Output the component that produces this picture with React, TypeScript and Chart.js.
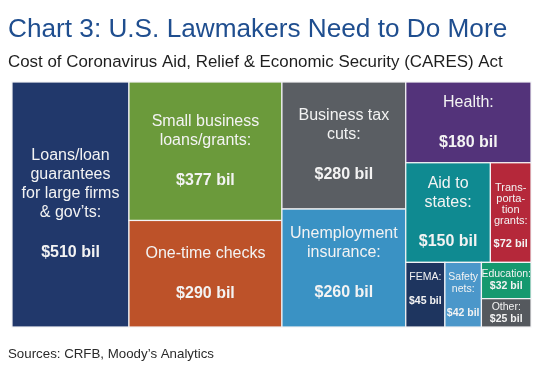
import React, { useEffect, useRef } from "react";
import { Chart, registerables } from "chart.js";

Chart.register(...registerables);

// ---- Data ----
const categories = [
  "Loans/loan guarantees for large firms & gov’ts",
  "Small business loans/grants",
  "One-time checks",
  "Business tax cuts",
  "Unemployment insurance",
  "Health",
  "Aid to states",
  "Transportation grants",
  "FEMA",
  "Safety nets",
  "Education",
  "Other",
];
const valuesBil = [510, 377, 290, 280, 260, 180, 150, 72, 45, 42, 32, 25];
const labelLines: string[][] = [
  ["Loans/loan", "guarantees", "for large firms", "& gov’ts:"],
  ["Small business", "loans/grants:"],
  ["One-time checks"],
  ["Business tax", "cuts:"],
  ["Unemployment", "insurance:"],
  ["Health:"],
  ["Aid to", "states:"],
  ["Trans-", "porta-", "tion", "grants:"],
  ["FEMA:"],
  ["Safety", "nets:"],
  ["Education:"],
  ["Other:"],
];
const colors = [
  "#21386b",
  "#6b9a3b",
  "#bd5229",
  "#5a5e63",
  "#3a92c4",
  "#53337a",
  "#0f8a91",
  "#b5283a",
  "#1e355f",
  "#4b97ca",
  "#15996f",
  "#55595e",
];
// nested grouping of category indices (alternating horizontal / vertical split)
const layoutTree: any[] = [0, [1, 2], [3, 4], [5, [6, 7], [8, 9, [10, 11]]]];
const textTier = ["big", "big", "big", "big", "big", "big", "big", "tiny", "small", "small", "smallTight", "smallTight"];
const trailingBlank = [false, false, false, false, false, false, false, false, true, false, false, false];
const textShift = [0, 0, 0, 0, -5, 0, 0, 3, 0, 0, 0, 0];

const titleText = "Chart 3: U.S. Lawmakers Need to Do More";
const subtitleText = "Cost of Coronavirus Aid, Relief & Economic Security (CARES) Act";
const sourceText = "Sources: CRFB, Moody’s Analytics";

const FONT = "'Liberation Sans', Arial, Helvetica, sans-serif";

function nodeSum(n: any): number {
  return Array.isArray(n) ? n.reduce((s: number, c: any) => s + nodeSum(c), 0) : valuesBil[n];
}

type Rect = { i: number; x0: number; x1: number; y0: number; y1: number };

function layout(n: any, x0: number, x1: number, y0: number, y1: number, depth: number, out: Rect[]) {
  if (!Array.isArray(n)) {
    out.push({ i: n, x0, x1, y0, y1 });
    return;
  }
  const total = nodeSum(n);
  let acc = 0;
  n.forEach((c: any) => {
    const v = nodeSum(c);
    const f0 = acc / total;
    const f1 = (acc + v) / total;
    acc += v;
    if (depth % 2 === 0) {
      layout(c, x0 + (x1 - x0) * f0, x0 + (x1 - x0) * f1, y0, y1, depth + 1, out);
    } else {
      layout(c, x0, x1, y0 + (y1 - y0) * f0, y0 + (y1 - y0) * f1, depth + 1, out);
    }
  });
}

const grandTotal = nodeSum(layoutTree);

const tiers: Record<string, { label: number; value: number; lh: number; gap: number }> = {
  big: { label: 16, value: 16, lh: 19, gap: 2.1 },
  tiny: { label: 11, value: 11, lh: 11, gap: 2.1 },
  small: { label: 10.5, value: 10.5, lh: 12, gap: 2 },
  smallTight: { label: 10.5, value: 10.5, lh: 12, gap: 1 },
};

const treemapPlugin = {
  id: "treemapCells",
  afterDatasetsDraw(chart: any) {
    const xs = chart.scales.x;
    const ys = chart.scales.y;
    const ctx = chart.ctx;
    const rects: Rect[] = [];
    layout(layoutTree, 0, grandTotal, 0, 1, 0, rects);
    ctx.save();
    rects.forEach((r) => {
      const px0 = xs.getPixelForValue(r.x0);
      const px1 = xs.getPixelForValue(r.x1);
      const py0 = ys.getPixelForValue(r.y0);
      const py1 = ys.getPixelForValue(r.y1);
      ctx.fillStyle = colors[r.i];
      ctx.fillRect(px0, py0, px1 - px0, py1 - py0);
      ctx.strokeStyle = "#f4f4f6";
      ctx.lineWidth = 1.2;
      ctx.strokeRect(px0, py0, px1 - px0, py1 - py0);

      const t = tiers[textTier[r.i]];
      const lines = labelLines[r.i];
      const blockH = lines.length * t.lh + t.gap * t.lh + (trailingBlank[r.i] ? t.lh : 0);
      const cx = (px0 + px1) / 2;
      const cy = (py0 + py1) / 2 + textShift[r.i];
      let y = cy - blockH / 2 + t.lh / 2;
      ctx.fillStyle = "#f3f3f3";
      ctx.textAlign = "center";
      ctx.textBaseline = "middle";
      ctx.font = `${t.label}px ${FONT}`;
      lines.forEach((ln) => {
        ctx.fillText(ln, cx, y);
        y += t.lh;
      });
      y += (t.gap - 1) * t.lh;
      ctx.font = `bold ${t.value}px ${FONT}`;
      ctx.fillText(`$${valuesBil[r.i]} bil`, cx, y);
    });
    ctx.restore();
  },
  afterDraw(chart: any) {
    const ctx = chart.ctx;
    ctx.save();
    ctx.textAlign = "left";
    ctx.textBaseline = "alphabetic";
    ctx.fillStyle = "#1f4e8f";
    ctx.font = `26.2px ${FONT}`;
    ctx.fillText(titleText, 8, 37);
    ctx.fillStyle = "#1e1e1e";
    ctx.font = `16.9px ${FONT}`;
    ctx.fillText(subtitleText, 8, 67);
    ctx.fillStyle = "#2a2a2a";
    ctx.font = `13.3px ${FONT}`;
    ctx.fillText(sourceText, 8, 357.5);
    ctx.restore();
  },
};

export default function App() {
  const ref = useRef<HTMLCanvasElement | null>(null);
  useEffect(() => {
    if (!ref.current) return;
    const chart = new Chart(ref.current, {
      type: "scatter",
      data: {
        labels: categories,
        datasets: [{ label: "CARES Act", data: [], pointRadius: 0 }],
      },
      options: {
        animation: false,
        responsive: false,
        layout: { padding: { left: 12, right: 17, top: 82, bottom: 40 } },
        plugins: {
          legend: { display: false },
          tooltip: { enabled: false },
          title: { display: false },
        },
        scales: {
          x: { type: "linear", min: 0, max: grandTotal, display: false },
          y: { type: "linear", min: 0, max: 1, reverse: true, display: false },
        },
      },
      plugins: [treemapPlugin],
    });
    return () => chart.destroy();
  }, []);
  return (
    <div style={{ position: "fixed", left: 0, top: 0, width: 548, height: 367, background: "#ffffff" }}>
      <canvas ref={ref} width={548} height={367} style={{ display: "block" }} />
    </div>
  );
}
